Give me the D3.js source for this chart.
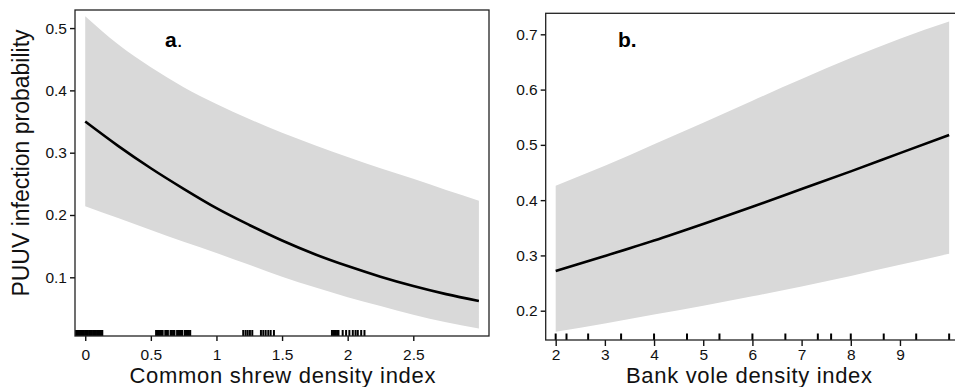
<!DOCTYPE html>
<html><head><meta charset="utf-8">
<script src="https://cdn.jsdelivr.net/npm/d3@7"></script>
<style>body{margin:0;background:#fff}svg{display:block}</style>
</head><body>
<svg id="chart" width="955" height="387"></svg>
<script>
// ---- Panel a: common shrew ----
const shrewX     = [0, 0.25, 0.5, 0.75, 1, 1.25, 1.5, 1.75, 2, 2.25, 2.5, 2.75, 3.0];
const shrewFit   = [0.350, 0.311, 0.275, 0.242, 0.211, 0.184, 0.159, 0.137, 0.118, 0.101, 0.086, 0.073, 0.062];
const shrewUpper = [0.519, 0.474, 0.437, 0.405, 0.378, 0.354, 0.332, 0.312, 0.293, 0.275, 0.258, 0.240, 0.223];
const shrewLower = [0.214, 0.195, 0.176, 0.157, 0.139, 0.120, 0.101, 0.084, 0.068, 0.054, 0.040, 0.028, 0.018];
const shrewRug = [-0.07,-0.06,-0.05,-0.04,-0.03,-0.02,-0.01,0,0.01,0.02,0.03,0.04,0.05,0.06,0.07,0.08,0.09,0.10,0.11,0.12,0.13,
  0.54,0.55,0.56,0.57,0.58,0.59,0.61,0.62,0.63,0.65,0.66,0.67,0.68,0.70,0.71,0.72,0.73,0.74,0.76,0.77,0.78,0.79,0.80,
  1.204,1.222,1.238,1.255,1.273,1.339,1.357,1.375,1.395,1.413,1.438,
  1.88,1.89,1.90,1.91,1.92,1.93,1.962,1.988,2.013,2.039,2.06,2.077,2.103,2.128];
const shrewXTicks = [0, 0.5, 1, 1.5, 2, 2.5];
const shrewXTickLabels = ["0", "0.5", "1", "1.5", "2", "2.5"];
const shrewYTicks = [0.1, 0.2, 0.3, 0.4, 0.5];
const shrewYTickLabels = ["0.1", "0.2", "0.3", "0.4", "0.5"];

// ---- Panel b: bank vole ----
const voleX     = [2, 3, 4, 5, 6, 7, 8, 9, 10];
const voleFit   = [0.272, 0.299, 0.327, 0.357, 0.388, 0.420, 0.452, 0.485, 0.518];
const voleUpper = [0.426, 0.462, 0.501, 0.540, 0.580, 0.619, 0.657, 0.692, 0.723];
const voleLower = [0.162, 0.177, 0.193, 0.209, 0.226, 0.244, 0.263, 0.283, 0.303];
const voleRug = [2, 2.22, 2.66, 3.33, 4, 4.67, 5.33, 6, 6.67, 7.33, 7.6, 8, 8.67, 9.33, 10];
const voleXTicks = [2, 3, 4, 5, 6, 7, 8, 9];
const voleXTickLabels = ["2", "3", "4", "5", "6", "7", "8", "9"];
const voleYTicks = [0.2, 0.3, 0.4, 0.5, 0.6, 0.7];
const voleYTickLabels = ["0.2", "0.3", "0.4", "0.5", "0.6", "0.7"];

const yTitle = "PUUV infection probability";
const FONT = "'Liberation Sans', Arial, Helvetica, sans-serif";

const svg = d3.select("#chart");

function panel(cfg) {
  const x = d3.scaleLinear().domain(cfg.xDomain).range([cfg.left, cfg.right]);
  const y = d3.scaleLinear().domain(cfg.yDomain).range([cfg.bottom, cfg.top]);
  const g = svg.append("g");
  const clipId = "clip" + cfg.id;
  g.append("clipPath").attr("id", clipId).append("rect")
    .attr("x", cfg.left).attr("y", cfg.top)
    .attr("width", cfg.right - cfg.left).attr("height", cfg.bottom - cfg.top);

  const rows = cfg.xs.map((v, i) => ({x: v, fit: cfg.fit[i], lo: cfg.lower[i], hi: cfg.upper[i]}));
  const plot = g.append("g").attr("clip-path", `url(#${clipId})`);
  plot.append("path").datum(rows)
    .attr("fill", "#d9d9d9")
    .attr("d", d3.area().curve(d3.curveMonotoneX)
      .x(d => x(d.x)).y0(d => y(d.lo)).y1(d => y(d.hi)));
  plot.append("path").datum(rows)
    .attr("fill", "none").attr("stroke", "#000").attr("stroke-width", 2.6)
    .attr("d", d3.line().curve(d3.curveMonotoneX).x(d => x(d.x)).y(d => y(d.fit)));

  // rug
  plot.append("g").selectAll("line").data(cfg.rug).join("line")
    .attr("x1", d => x(d)).attr("x2", d => x(d))
    .attr("y1", cfg.bottom).attr("y2", cfg.bottom - cfg.rugLen)
    .attr("stroke", "#000").attr("stroke-width", cfg.rugW);

  // axes
  const xa = d3.axisBottom(x).tickValues(cfg.xTicks)
    .tickFormat((d, i) => cfg.xTickLabels[i]).tickSize(cfg.xTickLen).tickPadding(cfg.xPad).tickSizeOuter(0);
  const gx = g.append("g").attr("transform", `translate(0,${cfg.bottom})`).call(xa);
  const ya = d3.axisLeft(y).tickValues(cfg.yTicks)
    .tickFormat((d, i) => cfg.yTickLabels[i]).tickSize(5).tickPadding(3).tickSizeOuter(0);
  const gy = g.append("g").attr("transform", `translate(${cfg.left},0)`).call(ya);
  [gx, gy].forEach(a => {
    a.select(".domain").remove();
    a.selectAll(".tick line").attr("stroke", "#111").attr("stroke-width", 1.4);
    a.selectAll(".tick text").attr("fill", "#111").style("font-family", FONT).style("font-size", "15.5px");
  });

  // frame
  g.append("rect").attr("x", cfg.left).attr("y", cfg.top)
    .attr("width", cfg.right - cfg.left).attr("height", cfg.bottom - cfg.top)
    .attr("fill", "none").attr("stroke", "#222").attr("stroke-width", 1.3);

  // x title
  g.append("text").attr("x", cfg.titleX).attr("y", 382.5)
    .attr("text-anchor", "middle").style("font-family", FONT).style("font-size", "22px")
    .attr("textLength", cfg.titleW).attr("lengthAdjust", "spacing")
    .attr("fill", "#111").text(cfg.xTitle);

  // panel letter
  const t = g.append("text").attr("x", cfg.letterX).attr("y", cfg.letterY)
    .style("font-family", FONT).style("font-size", "21px").attr("fill", "#000");
  t.append("tspan").style("font-weight", "bold").text(cfg.letter);
  t.append("tspan").style("font-weight", cfg.dotBold ? "bold" : "normal").text(".");
  return {x, y};
}

panel({
  id: "a", left: 75, right: 489, top: 10, bottom: 336,
  xDomain: [-0.078, 3.077], yDomain: [0.0058, 0.529],
  xs: shrewX, fit: shrewFit, upper: shrewUpper, lower: shrewLower, rug: shrewRug,
  rugLen: 6, rugW: 2,
  xTicks: shrewXTicks, xTickLabels: shrewXTickLabels, xTickLen: 5, xPad: 7.5,
  yTicks: shrewYTicks, yTickLabels: shrewYTickLabels,
  xTitle: "Common shrew density index", titleX: 282.5, titleW: 306,
  letter: "a", dotBold: false, letterX: 165, letterY: 47
});

panel({
  id: "b", left: 545.7, right: 958, top: 13.3, bottom: 340,
  xDomain: [1.797, 10.18], yDomain: [0.147, 0.738],
  xs: voleX, fit: voleFit, upper: voleUpper, lower: voleLower, rug: voleRug,
  rugLen: 6.5, rugW: 2,
  xTicks: voleXTicks, xTickLabels: voleXTickLabels, xTickLen: 6, xPad: 2.5,
  yTicks: voleYTicks, yTickLabels: voleYTickLabels,
  xTitle: "Bank vole density index", titleX: 749, titleW: 246,
  letter: "b", dotBold: true, letterX: 618, letterY: 47
});

// shared y title
svg.append("text")
  .attr("transform", "translate(29,163) rotate(-90)")
  .attr("text-anchor", "middle").style("font-family", FONT).style("font-size", "23px")
  .attr("fill", "#111").text(yTitle);
</script>
</body></html>
